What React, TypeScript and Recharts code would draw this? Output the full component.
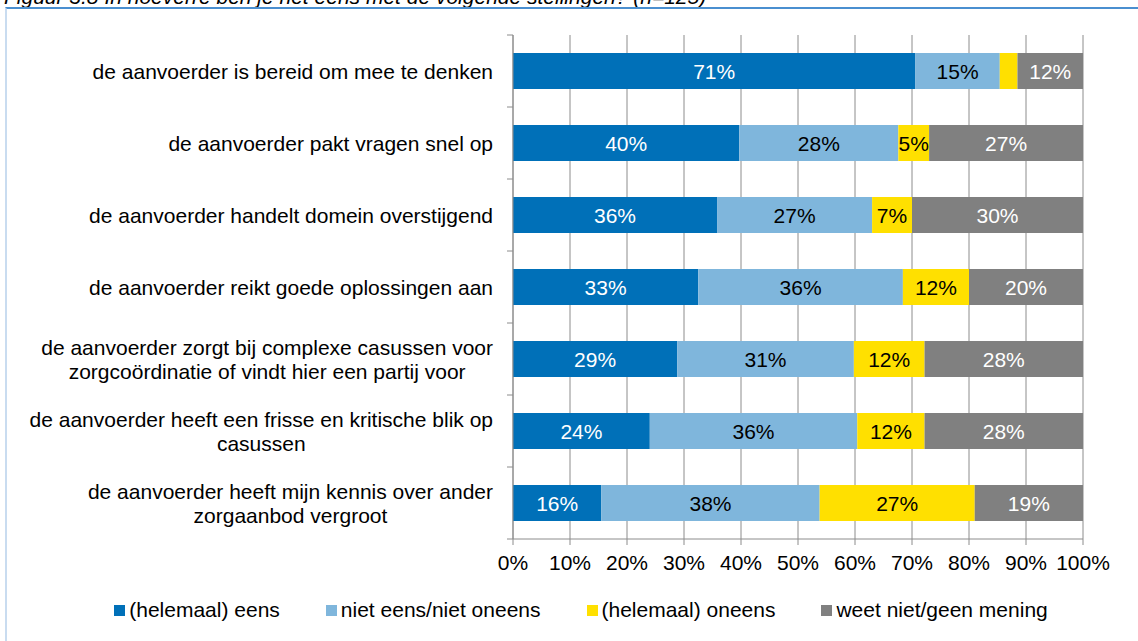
import React from 'react';
import {
  BarChart,
  Bar,
  XAxis,
  YAxis,
  CartesianGrid,
  LabelList,
} from 'recharts';

const categories = [
  'de aanvoerder is bereid om mee te denken',
  'de aanvoerder pakt vragen snel op',
  'de aanvoerder handelt domein overstijgend',
  'de aanvoerder reikt goede oplossingen aan',
  'de aanvoerder zorgt bij complexe casussen voor\nzorgcoördinatie of vindt hier een partij voor',
  'de aanvoerder heeft een frisse en kritische blik op\ncasussen',
  'de aanvoerder heeft mijn kennis over ander\nzorgaanbod vergroot',
];

const eens = [70.6, 39.7, 35.8, 32.5, 28.8, 24.0, 15.5];
const neutraal = [14.8, 27.9, 27.2, 35.9, 31.0, 36.4, 38.3];
const oneens = [3.1, 5.4, 7.0, 11.6, 12.4, 11.8, 27.2];
const weetNiet = [11.5, 27.0, 30.0, 20.0, 27.8, 27.8, 19.0];

const xTicks = [0, 10, 20, 30, 40, 50, 60, 70, 80, 90, 100];

const series = [
  { key: 'eens', name: '(helemaal) eens', color: '#0070B8', text: '#FFFFFF' },
  { key: 'neutraal', name: 'niet eens/niet oneens', color: '#7FB6DC', text: '#000000' },
  { key: 'oneens', name: '(helemaal) oneens', color: '#FFE000', text: '#000000' },
  { key: 'weetNiet', name: 'weet niet/geen mening', color: '#808080', text: '#FFFFFF' },
];

const data = categories.map((name, i) => ({
  name,
  eens: eens[i],
  neutraal: neutraal[i],
  oneens: oneens[i],
  weetNiet: weetNiet[i],
}));

const FONT = '"Liberation Sans", Arial, sans-serif';
const FS = 21;
const HALF_BAND = 36;

let ctx: CanvasRenderingContext2D | null = null;
function textWidth(s: string) {
  if (!ctx) ctx = document.createElement('canvas').getContext('2d');
  if (!ctx) return s.length * FS * 0.5;
  ctx.font = `${FS}px ${FONT}`;
  return ctx.measureText(s).width;
}

// category label: lines centred on each other, block right-aligned at the axis
function CategoryTick(props: any) {
  const { x, y, payload, index } = props;
  const lines: string[] = String(payload.value).split('\n');
  const blockW = Math.max(...lines.map(textWidth));
  const cx = x - blockW / 2;
  const axisX = x + 20;
  const lh = 24;
  const top = y - ((lines.length - 1) * lh) / 2;
  return (
    <g>
      <line x1={axisX - 6} x2={axisX} y1={y - HALF_BAND} y2={y - HALF_BAND} stroke="#8c8c8c" />
      {index === categories.length - 1 && (
        <line x1={axisX - 6} x2={axisX} y1={y + HALF_BAND} y2={y + HALF_BAND} stroke="#8c8c8c" />
      )}
      {lines.map((l, i) => (
        <text
          key={i}
          x={cx}
          y={top + i * lh}
          textAnchor="middle"
          dominantBaseline="central"
          fontFamily={FONT}
          fontSize={FS}
          fill="#000"
        >
          {l}
        </text>
      ))}
    </g>
  );
}

function makeLabel(textColor: string) {
  return (props: any) => {
    const { x, y, width, height, value } = props;
    if (value < 4) return null;
    return (
      <text
        x={x + width / 2}
        y={y + height / 2}
        textAnchor="middle"
        dominantBaseline="central"
        fontFamily={FONT}
        fontSize={FS}
        fill={textColor}
      >
        {`${Math.round(value)}%`}
      </text>
    );
  };
}

export default function App() {
  return (
    <div style={{ position: 'absolute', left: 0, top: 0, width: 1138, height: 641, background: '#fff', overflow: 'hidden', fontFamily: FONT }}>
      <div style={{ position: 'absolute', left: 4, top: -15, fontSize: 21, fontStyle: 'italic', color: '#000', whiteSpace: 'nowrap' }}>
        Figuur 3.8 In hoeverre ben je het eens met de volgende stellingen? (n=125)
      </div>
      <div style={{ position: 'absolute', left: 5, top: 7, width: 1200, height: 700, borderTop: '2px solid #4a8fd0', borderLeft: '2px solid #c9dcf0' }} />
      <div style={{ position: 'absolute', left: 0, top: 0 }}>
        <BarChart
          width={1138}
          height={641}
          layout="vertical"
          data={data}
          margin={{ top: 35, right: 55, left: 0, bottom: 72 }}
          barSize={36}
        >
          <CartesianGrid horizontal={false} stroke="#8c8c8c" />
          <XAxis
            type="number"
            domain={[0, 100]}
            ticks={xTicks}
            tickFormatter={(v) => `${v}%`}
            tick={{ fill: '#000', fontSize: FS, fontFamily: FONT }}
            stroke="#8c8c8c"
            tickSize={6}
            tickMargin={10}
            height={30}
            interval={0}
          />
          <YAxis
            type="category"
            dataKey="name"
            width={513}
            tick={<CategoryTick />}
            tickLine={false}
            tickSize={0}
            tickMargin={20}
            stroke="#8c8c8c"
            interval={0}
          />
          {series.map((s) => (
            <Bar key={s.key} dataKey={s.key} name={s.name} stackId="a" fill={s.color} isAnimationActive={false}>
              <LabelList dataKey={s.key} content={makeLabel(s.text)} />
            </Bar>
          ))}
        </BarChart>
      </div>
      <div style={{ position: 'absolute', left: 12, top: 598, width: 1138, display: 'flex', justifyContent: 'center', gap: 46, fontSize: FS, color: '#000' }}>
        {series.map((s) => (
          <div key={s.key} style={{ display: 'flex', alignItems: 'center', whiteSpace: 'nowrap' }}>
            <span style={{ display: 'inline-block', width: 11, height: 11, background: s.color, marginRight: 4 }} />
            {s.name}
          </div>
        ))}
      </div>
    </div>
  );
}
